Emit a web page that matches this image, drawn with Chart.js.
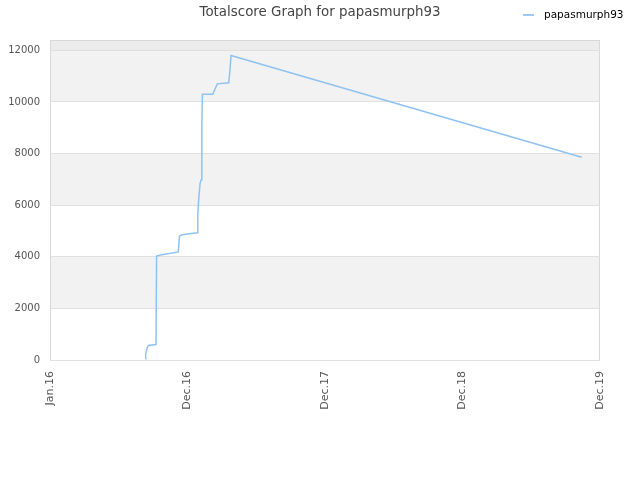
<!DOCTYPE html>
<html>
<head>
<meta charset="utf-8">
<script src="https://cdn.jsdelivr.net/npm/chart.js@4/dist/chart.umd.min.js"></script>
<style>
  body { margin: 0; background: #fff; }
  #wrap { position: relative; width: 640px; height: 480px; font-family: "DejaVu Sans", sans-serif; }
  #title { position: absolute; left: 0; width: 640px; top: 4px; text-align: center; font-size: 13.4px; color: #444; }
  #legend { position: absolute; left: 523px; top: 8px; font-size: 10.5px; color: #000; }
  #legend span.swatch { display: inline-block; width: 11px; height: 2px; background: #9ccaf2; vertical-align: middle; margin-right: 10px; }
</style>
</head>
<body>
<div id="wrap">
  <canvas id="scoreChart" width="640" height="480"></canvas>
  <div id="title">Totalscore Graph for papasmurph93</div>
  <div id="legend"><span class="swatch"></span>papasmurph93</div>
</div>
<script>
// months since Jan 2016
const months = [8.3, 8.35, 8.5, 8.6, 9.25, 9.3, 9.65, 11.2, 11.3, 11.5, 12.85, 12.9, 13.0, 13.1, 13.2, 13.25, 13.3, 14.2, 14.6, 15.6, 15.7, 15.8, 46.4];
const scores = [50, 230, 500, 560, 600, 4030, 4070, 4190, 4800, 4850, 4930, 5700, 6350, 6850, 6980, 9150, 10300, 10300, 10700, 10740, 11200, 11800, 7860];

const xTickValues = [0, 12, 24, 36, 48];
const xTickLabels = ['Jan.16', 'Dec.16', 'Dec.17', 'Dec.18', 'Dec.19'];
const yTickValues = [0, 2000, 4000, 6000, 8000, 10000, 12000];

// alternating background bands
const bandPlugin = {
  id: 'bands',
  beforeDraw(chart) {
    const { ctx, chartArea, scales } = chart;
    const y = scales.y;
    ctx.save();
    for (let i = 0; i < yTickValues.length; i++) {
      const from = yTickValues[i];
      const to = i + 1 < yTickValues.length ? yTickValues[i + 1] : y.max;
      let color = null;
      if (i === yTickValues.length - 1) color = '#ececec';
      else if (i % 2 === 1) color = '#f2f2f2';
      if (!color) continue;
      const top = y.getPixelForValue(to);
      const bottom = y.getPixelForValue(from);
      ctx.fillStyle = color;
      ctx.fillRect(chartArea.left, top, chartArea.right - chartArea.left, bottom - top);
    }
    ctx.strokeStyle = '#d8d8d8';
    ctx.lineWidth = 1;
    ctx.strokeRect(chartArea.left + 0.5, chartArea.top + 0.5, chartArea.right - chartArea.left - 1, chartArea.bottom - chartArea.top);
    ctx.restore();
  },
};

const ctx = document.getElementById('scoreChart').getContext('2d');
new Chart(ctx, {
  type: 'line',
  data: {
    datasets: [
      {
        label: 'papasmurph93',
        data: months.map((m, i) => ({ x: m, y: scores[i] })),
        borderColor: '#8ec2f2',
        borderWidth: 1.5,
        pointRadius: 0,
        tension: 0,
        fill: false,
      },
    ],
  },
  options: {
    responsive: false,
    animation: false,
    layout: { padding: { top: 40, right: 40 } },
    plugins: {
      legend: { display: false },
      title: { display: false },
      tooltip: { enabled: false },
    },
    scales: {
      x: {
        type: 'linear',
        min: 0,
        max: 48,
        afterBuildTicks: (axis) => {
          axis.ticks = xTickValues.map((v) => ({ value: v }));
        },
        afterFit: (axis) => {
          axis.height = 120;
        },
        ticks: {
          minRotation: 90,
          maxRotation: 90,
          color: '#555',
          font: { family: 'DejaVu Sans', size: 11 },
          callback: (v) => xTickLabels[xTickValues.indexOf(v)],
        },
        grid: { display: false },
        border: { display: false },
      },
      y: {
        min: 0,
        max: 12400,
        afterBuildTicks: (axis) => {
          axis.ticks = yTickValues.map((v) => ({ value: v }));
        },
        afterFit: (axis) => {
          axis.width = 50;
        },
        ticks: {
          color: '#555',
          font: { family: 'DejaVu Sans', size: 10 },
          padding: 10,
          callback: (v) => String(v),
        },
        grid: { color: '#e0e0e0', drawTicks: false },
        border: { display: false },
      },
    },
  },
  plugins: [bandPlugin],
});
</script>
</body>
</html>
